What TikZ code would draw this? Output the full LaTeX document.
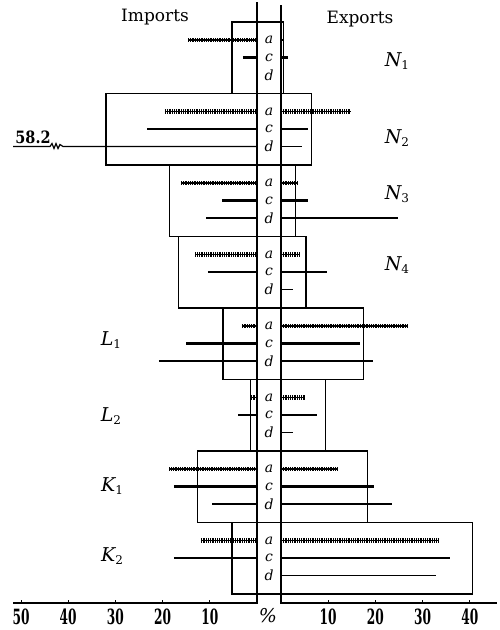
\documentclass[tikz,border=0pt]{standalone}
\usepackage{fontspec}
\setmainfont{DejaVu Serif}
\usetikzlibrary{calc}
\newcommand\zl{257}
\newcommand\zr{281}
\newcommand\sca{4.72}
\newcommand\lab[2]{{\itshape #1}\raisebox{-0.32ex}{\fontsize{12}{12}\selectfont #2}}
% #1 top, #2 box left, #3 box right, #4 a imp, #5 a exp, #6 c imp, #7 c exp, #8 d imp, #9 d exp
\newcommand\grp[9]{%
  \draw[boxline] ({\zl-(#2)*\sca},#1) rectangle ({\zr+(#3)*\sca},#1+71.5);
  \ifdim#4pt>0pt \draw[aline] ({\zl-(#4)*\sca},#1+18) -- (\zl,#1+18);
    \draw[ahatch] ({\zl-(#4)*\sca},#1+18) -- (\zl,#1+18);\fi
  \ifdim#5pt>0pt \draw[aline] (\zr,#1+18) -- ({\zr+(#5)*\sca},#1+18);
    \draw[ahatch] (\zr,#1+18) -- ({\zr+(#5)*\sca},#1+18);\fi
  \ifdim#6pt>0pt \draw[cline] ({\zl-(#6)*\sca},#1+35.5) -- (\zl,#1+35.5);\fi
  \ifdim#7pt>0pt \draw[cline] (\zr,#1+35.5) -- ({\zr+(#7)*\sca},#1+35.5);\fi
  \ifdim#8pt>0pt \draw[dline] ({\zl-(#8)*\sca},#1+53) -- (\zl,#1+53);\fi
  \ifdim#9pt>0pt \draw[dline] (\zr,#1+53) -- ({\zr+(#9)*\sca},#1+53);\fi
  \node[rowlab] at (269,#1+18) {a};
  \node[rowlab] at (269,#1+35.5) {c};
  \node[rowlab] at (269,#1+53) {d};
}
\begin{document}
\begin{tikzpicture}[x=1pt,y=-1pt,
  boxline/.style={line width=1.1pt},
  aline/.style={line width=1.5pt},
  ahatch/.style={line width=4.2pt,dash pattern=on 0.7pt off 1.1pt},
  cline/.style={line width=2.6pt},
  dline/.style={line width=1.2pt},
  axisline/.style={line width=1.4pt},
  rowlab/.style={font=\fontsize{14}{15}\selectfont\itshape, inner sep=0pt},
  grplab/.style={font=\fontsize{19}{21}\selectfont, inner sep=0pt},
  ticklab/.style={font=\fontsize{21}{22}\selectfont\bfseries, inner sep=0pt},
  head/.style={font=\fontsize{17}{19}\selectfont, inner sep=0pt}]
\useasboundingbox[fill=white] (0,0) rectangle (500,630);

% groups
\grp{22}{5.3}{0.6}{14.6}{0.6}{3.0}{1.5}{0}{0}
\grp{93.5}{32.0}{6.4}{19.5}{14.8}{23.3}{5.7}{0}{4.4}
\grp{165}{18.6}{3.0}{16.1}{3.6}{7.4}{5.7}{10.8}{24.8}
\grp{236.5}{16.7}{5.3}{13.1}{4.0}{10.4}{9.7}{0}{2.5}
\grp{308}{7.2}{17.4}{3.2}{26.7}{15.0}{16.7}{20.8}{19.5}
\grp{379.5}{1.3}{9.5}{1.3}{5.1}{4.0}{7.6}{0}{2.5}
\grp{451}{12.7}{18.4}{18.6}{12.1}{17.6}{19.7}{9.5}{23.5}
\grp{522.5}{5.3}{40.5}{11.9}{33.5}{17.6}{35.8}{0}{32.8}

% broken bar 58.2 (N2, d imports)
\coordinate (brk) at (13,146.5);
\draw[dline] (brk) -- (50,146.5) -- (52,143.5) -- (54,148.5) -- (56,143.5) -- (58,148.5) -- (60,144.5) -- (63,146.5) -- (\zl,146.5);
\node[font=\fontsize{17}{18}\selectfont\bfseries, inner sep=0pt] (val) at (33,137) {\scalebox{0.85}[1]{58.2}};

% central column and axes
\draw[axisline] (13,603) -- (\zl,603) -- (\zl,2);
\draw[axisline] (\zr,5) -- (\zr,603) -- (497,603);
\foreach \v in {10,20,30,40,50} {
  \draw[line width=0.8pt] ({\zl-\v*\sca},603) -- ++(0,-3.5);
  \node[ticklab] at ({\zl-\v*\sca},617) {\scalebox{0.58}[1]{\v}};
}
\foreach \v in {10,20,30,40} {
  \draw[line width=0.8pt] ({\zr+\v*\sca},603) -- ++(0,-3.5);
  \node[ticklab] at ({\zr+\v*\sca},617) {\scalebox{0.58}[1]{\v}};
}
\node[font=\fontsize{19}{20}\selectfont\itshape, inner sep=0pt] (pct) at (268,616) {\%};

% headings
\node[head] (imp) at (155,17) {Imports};
\node[head] (exp) at (360,19) {Exports};

% group labels
\node[grplab] (n1) at (397,61) {\lab{N}{1}};
\node[grplab] (n2) at (397,138) {\lab{N}{2}};
\node[grplab] (n3) at (397,194) {\lab{N}{3}};
\node[grplab] (n4) at (397,265) {\lab{N}{4}};
\node[grplab] (l1) at (111,340) {\lab{L}{1}};
\node[grplab] (l2) at (111,416) {\lab{L}{2}};
\node[grplab] (k1) at (112,486) {\lab{K}{1}};
\node[grplab] (k2) at (112,556) {\lab{K}{2}};
\end{tikzpicture}
\end{document}
